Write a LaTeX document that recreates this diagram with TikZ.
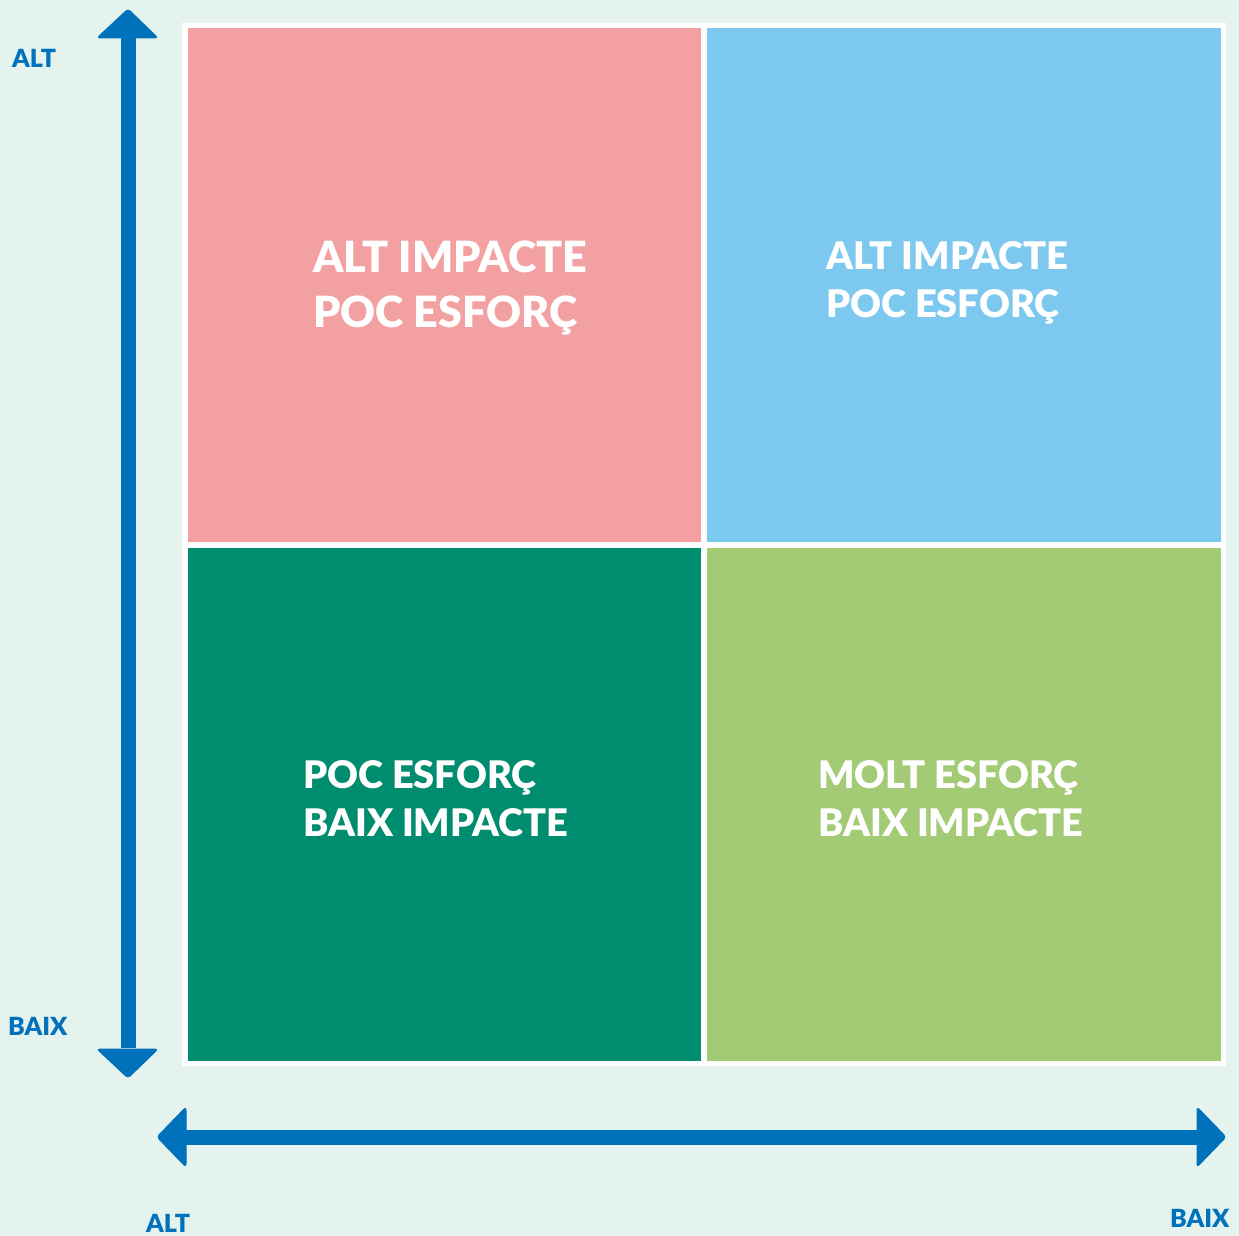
\documentclass[tikz,border=0pt]{standalone}
\usepackage{fontspec}
\setmainfont{Lato}
\newfontfamily\heavyfont{Lato Black}
\definecolor{bgc}{HTML}{E5F3EE}
\definecolor{arr}{HTML}{0071BB}
\definecolor{qpink}{HTML}{F2A0A2}
\definecolor{qblue}{HTML}{7DC8EF}
\definecolor{qgreen}{HTML}{008C6E}
\definecolor{qlight}{HTML}{A3CA74}
\begin{document}
\begin{tikzpicture}[x=1pt,y=-1pt,
  quad/.style={fill=#1,draw=none},
  qtxt/.style={anchor=base west,inner sep=0pt,text=white,font=\heavyfont\fontsize{#1}{#1}\selectfont},
  axtxt/.style={anchor=base west,inner sep=0pt,text=arr,font=\heavyfont\fontsize{25}{25}\selectfont},
  head/.style={fill=arr,draw=arr,line width=1pt,rounded corners=3pt,line join=round},
  shaft/.style={draw=arr,line width=15pt}
]
\useasboundingbox (0,0) rectangle (1239,1236);
\fill[bgc] (0,0) rectangle (1239,1236);
% white frame
\fill[white] (182,23) rectangle (1226,1066);
\fill[quad=qpink] (188,28) rectangle (701,542);
\fill[quad=qblue] (707,28) rectangle (1221,542);
\fill[quad=qgreen] (188,548) rectangle (701,1061);
\fill[quad=qlight] (707,548) rectangle (1221,1061);
% texts
\node[qtxt=43] (t1a) at (313,272) {ALT IMPACTE};
\node[qtxt=43] (t1b) at (313,327) {POC ESFORÇ};
\node[qtxt=38] (t2a) at (826,269) {ALT IMPACTE};
\node[qtxt=38] (t2b) at (826,317) {POC ESFORÇ};
\node[qtxt=38] (t3a) at (303,788) {POC ESFORÇ};
\node[qtxt=38] (t3b) at (303,836) {BAIX IMPACTE};
\node[qtxt=38] (t4a) at (818,788) {MOLT ESFORÇ};
\node[qtxt=38] (t4b) at (818,836) {BAIX IMPACTE};
% vertical arrow
\coordinate (vtop) at (128,38);
\coordinate (vbot) at (128,1048);
\draw[shaft] (vtop) -- (vbot);
\path[head] (128,9) -- (158,38) -- (97,38) -- cycle;
\path[head] (128,1078) -- (158,1049) -- (97,1049) -- cycle;
% horizontal arrow
\coordinate (hl) at (186,1137);
\coordinate (hr) at (1197,1137);
\draw[shaft] (hl) -- (hr);
\path[head] (157,1137) -- (186,1107) -- (186,1167) -- cycle;
\path[head] (1226,1137) -- (1197,1107) -- (1197,1167) -- cycle;
% axis labels
\node[axtxt] (ya) at (12,68) {ALT};
\node[axtxt] (yb) at (8,1035) {BAIX};
\node[axtxt] (xa) at (146,1232) {ALT};
\node[axtxt] (xb) at (1170,1227) {BAIX};
\end{tikzpicture}
\end{document}
